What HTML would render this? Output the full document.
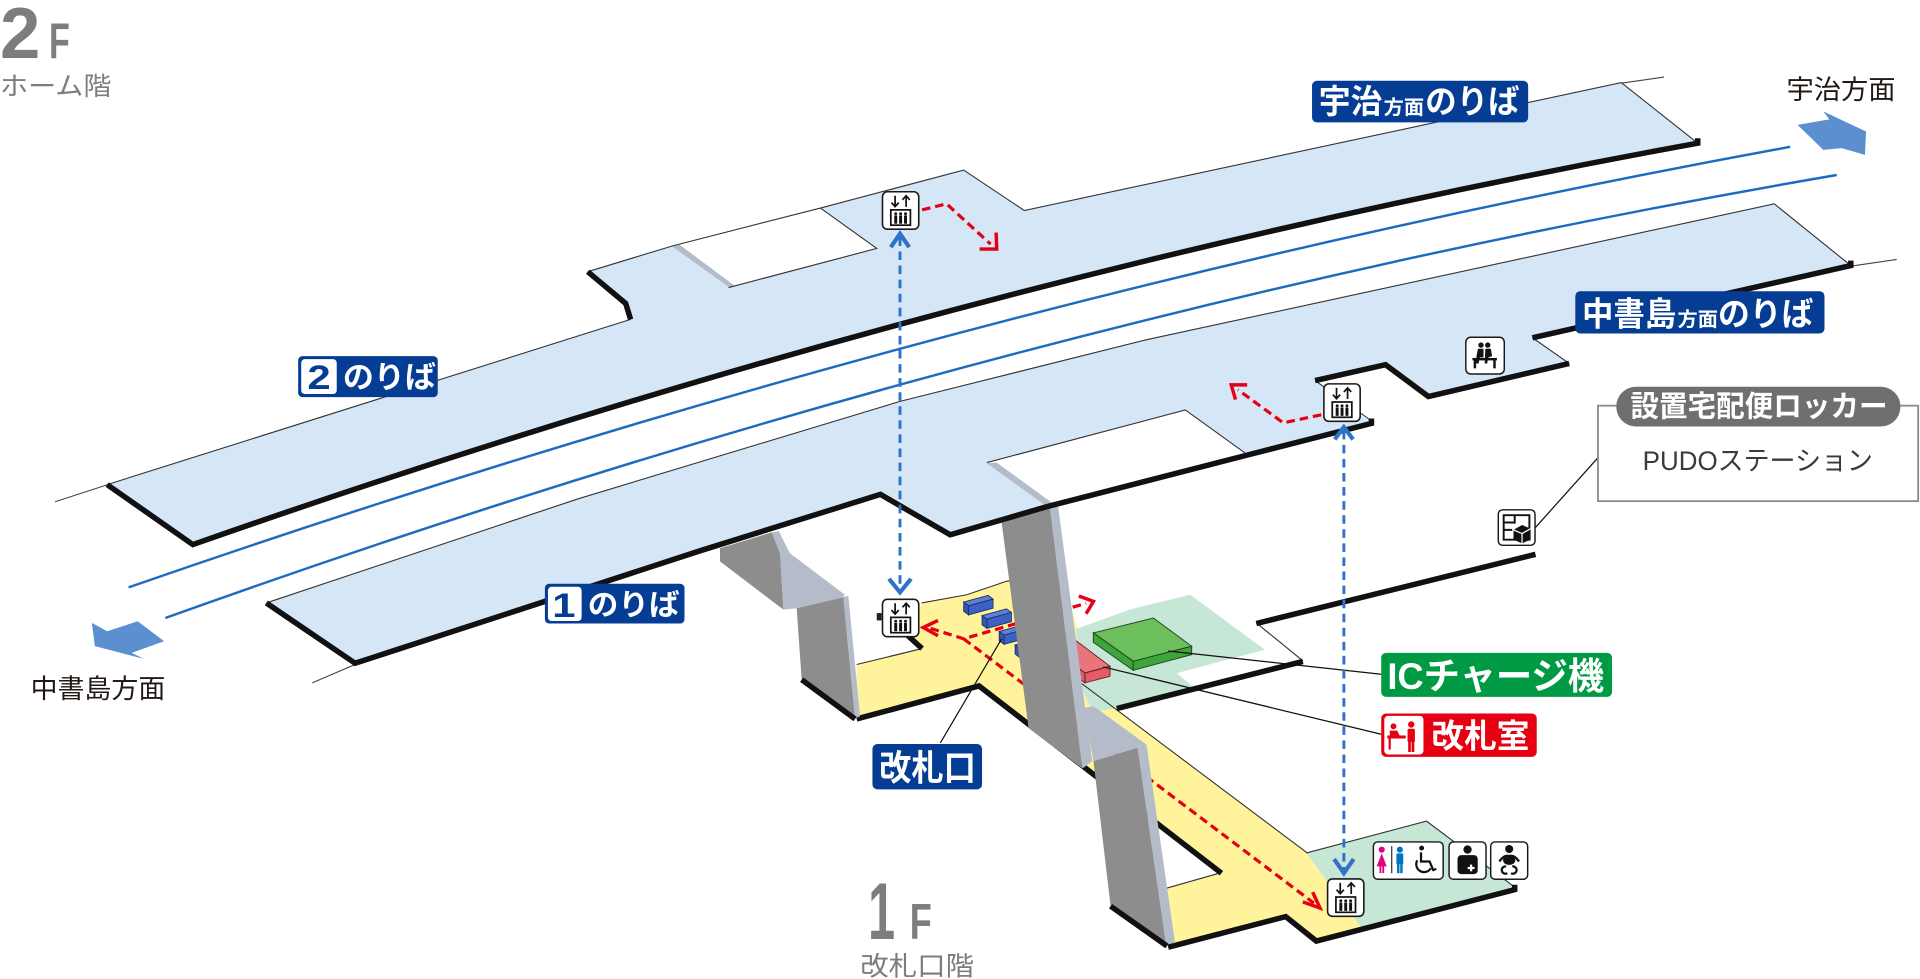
<!DOCTYPE html>
<html>
<head>
<meta charset="utf-8">
<style>
html,body{margin:0;padding:0;background:#fff;overflow:hidden;}
svg{display:block;}
text{font-family:"Liberation Sans","Noto Sans CJK JP",sans-serif;}
</style>
</head>
<body>
<svg xmlns="http://www.w3.org/2000/svg" width="1920" height="979" viewBox="0 0 1568 800" preserveAspectRatio="none">
<defs>
  <g id="elev">
    <rect x="0.7" y="0.7" width="29.6" height="30.6" rx="4" fill="#fff" stroke="#1a1a1a" stroke-width="1.3"/>
    <path d="M11,4 V12.5 M8,9.5 L11,12.8 L14,9.5 M20,13 V4.3 M17,7.3 L20,4 L23,7.3" fill="none" stroke="#111" stroke-width="1.4"/>
    <rect x="7.5" y="15.5" width="16" height="12.5" fill="#fff" stroke="#111" stroke-width="1.4"/>
    <g fill="#111">
      <circle cx="11.5" cy="18.6" r="1.2"/><circle cx="15.5" cy="18.6" r="1.2"/><circle cx="19.5" cy="18.6" r="1.2"/>
      <rect x="10.3" y="20" width="2.4" height="6.8"/><rect x="14.3" y="20" width="2.4" height="6.8"/><rect x="18.3" y="20" width="2.4" height="6.8"/>
    </g>
  </g>
  <g id="gate">
    <path d="M0,0 L20,-5.5 L24,-2.5 L4,3 Z" fill="#5b81d3" stroke="#1e2d6b" stroke-width="0.7"/>
    <path d="M4,3 L24,-2.5 L24,5 L4,10.5 Z" fill="#3b62c2" stroke="#1e2d6b" stroke-width="0.7"/>
    <path d="M0,0 L4,3 L4,10.5 L0,7.5 Z" fill="#3456b0" stroke="#1e2d6b" stroke-width="0.7"/>
  </g>
</defs>

<!-- track extension lines -->
<path d="M45,410 L88,396 M1324,68 L1359,63 M255,558 L290,543 M1511.5,217.5 L1549,212" stroke="#444" stroke-width="0.9" fill="none"/>

<!-- tracks -->
<path d="M105,480 Q783.5,244 1462,120" stroke="#1b6cc0" stroke-width="2" fill="none"/>
<path d="M135,505 Q817.5,260 1500,143" stroke="#1b6cc0" stroke-width="2" fill="none"/>

<!-- 1F floor -->
<polygon points="699.6,543 753,530 740.5,518.6 748,505 752.7,492.7 789.5,486 822,475 866,466 880,514 880,556 1067.6,697 1112,758 1075,769 1050,749 956,774 952,726 997.5,713 799.5,560 699.6,587" fill="#fff49c"/>
<polygon points="879,514 923,498 972,486 1033,531 961,550 974,561 913,578 893,582 880,556" fill="#c6e6d6"/>
<polygon points="1067,697 1165,671 1237,725 1237,729 1113,760 1111,757" fill="#c6e6d6"/>
<path d="M699.6,543 L753,530 M752.7,492.7 L789.5,486 L822,475 L866,466 M880,556 L1067.6,697 M952,726 L997.5,713 M1064,540 L1026,509 M1067,697 L1165,671 L1237,725" stroke="#333" stroke-width="0.9" fill="none"/>
<path d="M740.5,518.6 L753,530 M699.6,587.5 L799.5,560.5 L997.5,713.5 M954,774 L1050,749 L1075,769 L1237,727 L1237,723 M912,579 L1064,540.5 M1026,509.5 L1254,453" stroke="#111" stroke-width="4.5" fill="none" stroke-linejoin="miter"/>

<!-- gates -->
<use href="#gate" x="787" y="492"/>
<use href="#gate" x="802" y="503"/>
<use href="#gate" x="816" y="516"/>
<use href="#gate" x="829" y="527"/>

<!-- red box (ticket office) -->
<path d="M846,520 L866,514 L906.5,544.4 L886,550 Z" fill="#e8747c" stroke="#5a1a1a" stroke-width="0.7"/>
<path d="M886,550 L906.5,544.4 L906.5,552.6 L886,558 Z" fill="#e35b66" stroke="#5a1a1a" stroke-width="0.7"/>
<path d="M846,520 L886,550 L886,558 L846,528 Z" fill="#e35b66" stroke="#5a1a1a" stroke-width="0.7"/>

<!-- green box (IC charge) -->
<path d="M892.9,517.2 L941.9,505 L973.2,528.1 L925.5,540.4 Z" fill="#6cbf5c" stroke="#1f4a1c" stroke-width="0.8"/>
<path d="M892.9,517.2 L925.5,540.4 L925.5,547.7 L892.9,524.8 Z" fill="#3ea53d" stroke="#1f4a1c" stroke-width="0.8"/>
<path d="M925.5,540.4 L973.2,528.1 L973.2,534.9 L925.5,547.7 Z" fill="#3ea53d" stroke="#1f4a1c" stroke-width="0.8"/>

<!-- red dashed 1F -->
<g stroke="#e60012" stroke-width="2.6" fill="none">
  <path d="M760,513.5 L787,522 L887,493" stroke-dasharray="7 4"/>
  <path d="M787,522 L1073,738" stroke-dasharray="7 4"/>
  <path d="M766,507 L754,512.8 L766,519.5" stroke-width="2.8"/>
  <path d="M881,487 L893,491.4 L887,501.5" stroke-width="2.8"/>
  <path d="M1064,737 L1078,742 L1072,729" stroke-width="2.8"/>
</g>

<!-- leader lines -->
<path d="M818,522 L768,607 M954,532 L1128,551 M901,545 L1128,600 M1305,374 L1254,431" stroke="#111" stroke-width="1" fill="none"/>

<!-- pillar 1 -->
<polygon points="588,448 630.2,435 637,452 639.8,498.2 588,458.7" fill="#8d8d8d"/>
<polygon points="630.2,435 636,434 645,452 637,452" fill="#b3bcc8"/>
<polygon points="637,452 645,452 690,486 688.7,488 650.6,497 639.8,498.2" fill="#b3bcc8"/>
<polygon points="650.6,497 688.7,488 698.3,587 654.7,555.4" fill="#8d8d8d"/>
<polygon points="688.7,488 692.8,486.8 702.4,585.3 698.3,587" fill="#b3bcc8"/>
<path d="M654.7,555.4 L698.3,587.5" stroke="#111" stroke-width="4.5"/>

<!-- pillar 2 -->
<polygon points="818,427 857.5,415 884,628 840,595" fill="#8d8d8d"/>
<polygon points="857.5,415 864,413 892,622 884,628" fill="#b3bcc8"/>

<!-- pillar 3 -->
<polygon points="885,578.5 893,577 936.3,608.4 929,611 893,622" fill="#b3bcc8"/>
<polygon points="893,622 929,611 952.3,771.7 907,740.5" fill="#8d8d8d"/>
<polygon points="929,611 936.3,608.4 959.6,770.4 952.3,771.7" fill="#b3bcc8"/>
<path d="M907,740.5 L953,773" stroke="#111" stroke-width="4.5"/>

<!-- lower platform (1) -->
<path d="M217.5,492.7 L472.5,407.5 L735,328 L936,277.7 L1449,166.6 L1511.5,217 L1251.5,276 L1281.5,297 L1166.5,324 L1131.5,298 L1074,311 L1120,346 L1018,372 L855,414 L776,437 L719,404 L572,450 L290,542 Z" fill="#d5e6f6"/>
<polygon points="806,378 968,335 1018,371 855,414" fill="#fff"/>
<polygon points="805.8,378.4 814,378 862,413 855,414" fill="#b3bcc8"/>
<path d="M217.5,492.7 L472.5,407.5 L735,328 L936,277.7 L1449,166.6 L1511.5,217 M1251.5,276 L1281.5,297 M1074,311 L1120,344 M806,378 L968,335 L1018,371" stroke="#333" stroke-width="0.9" fill="none"/>
<path d="M1511.5,213 L1511.5,217 L1251.5,276 M1281.5,297 L1166.5,324 L1131.5,298 L1074,311 M1120,342 L1120,346 L1018,372 L855,414 L776,437 L719,404 L572,450 L290,542 L217.5,492.7" stroke="#111" stroke-width="4.5" fill="none"/>

<!-- upper platform (2) -->
<path d="M87.5,396 L515,261 L511,248 L480,222 L549,201 L670,170 L787,139 L836.5,172 L1324,67.5 L1386.5,117 Q772,229 157.5,445 Z" fill="#d5e6f6"/>
<polygon points="549,201 670,170 716,203 595,235" fill="#fff"/>
<polygon points="549,201.4 555,200 600,233.5 595,234.6" fill="#b3bcc8"/>
<path d="M87.5,396 L515,261 M480,222 L549,201 L670,170 L787,139 L836.5,172 L1324,67.5 L1386.5,117 M670,170 L716,203 L595,235" stroke="#333" stroke-width="0.9" fill="none"/>
<path d="M1386.5,113 L1386.5,117 Q772,229 157.5,445 L87.5,396 M515,261 L511,248 L480,222" stroke="#111" stroke-width="4.5" fill="none"/>

<!-- blue dashed verticals -->
<g stroke="#2f72c9" fill="none">
  <path d="M735,194 L735,481" stroke-width="2.4" stroke-dasharray="7 4.5"/>
  <path d="M1097.5,352 L1097.5,711" stroke-width="2.4" stroke-dasharray="7 4.5"/>
  <path d="M727.5,202 L735,191 L742.5,202" stroke-width="3.4"/>
  <path d="M726,473 L735,484 L744,473" stroke-width="3.4"/>
  <path d="M1090,359 L1097.5,349 L1105,359" stroke-width="3.4"/>
  <path d="M1089.5,702 L1097.5,713.5 L1105.5,702" stroke-width="3.4"/>
</g>

<!-- red dashed on platforms -->
<g stroke="#e60012" stroke-width="2.6" fill="none">
  <path d="M753,171.5 L773,166.5 L809,199.5" stroke-dasharray="7 4"/>
  <path d="M800,203.5 L814,203.5 L813.5,190" stroke-width="2.8"/>
  <path d="M1079,339 L1048,345.5 L1011,318.5" stroke-dasharray="7 4"/>
  <path d="M1018.5,314.5 L1005.5,314.5 L1009,326.5" stroke-width="2.8"/>
</g>

<!-- direction arrows -->
<polygon points="1468,102 1494,97.5 1489,91 1524,107.5 1523,126.6 1504,121 1489,122.5" fill="#5b8fd0"/>
<polygon points="75,509 87.5,515.8 112.5,507.7 134,524 107.5,533.5 117.5,538.4 77.5,528" fill="#5b8fd0"/>

<!-- elevators -->
<use href="#elev" x="720" y="156"/>
<use href="#elev" x="1080.5" y="313"/>
<rect x="716" y="501" width="4" height="6" fill="#222"/>
<use href="#elev" x="720" y="489"/>
<use href="#elev" x="1083.5" y="717.5"/>

<!-- waiting room icon -->
<g transform="translate(1196.5,275)">
  <rect x="0.6" y="0.6" width="31.4" height="30" rx="4" fill="#fff" stroke="#1a1a1a" stroke-width="1.2"/>
  <g fill="#111">
    <circle cx="13" cy="7" r="2.2"/><circle cx="18.5" cy="7" r="2.2"/>
    <path d="M10.5,10 L15,10 L15,17 L12,17 L11,22 L8.5,22 L9.5,15 Z"/>
    <path d="M16.5,10 L21,10 L22,16 L19,17 L18,22 L16,22 Z"/>
    <rect x="6" y="17.5" width="20" height="2"/>
    <rect x="7" y="19" width="2" height="7"/><rect x="23" y="19" width="2" height="7"/>
  </g>
</g>

<!-- PUDO locker icon -->
<g transform="translate(1223,416)">
  <rect x="0.6" y="0.6" width="30" height="29" rx="3.5" fill="#fff" stroke="#1a1a1a" stroke-width="1.2"/>
  <path d="M5,5 H26 V25 H5 Z M5,11 H14 M5,17 H12 M14,5 V12" stroke="#111" stroke-width="1.6" fill="none"/>
  <path d="M13,17 L20,13 L27,16 L27,25 L20,28 L13,25 Z" fill="#111"/>
  <path d="M13,17 L20,20 L27,16 M20,20 V28" stroke="#fff" stroke-width="1" fill="none"/>
</g>

<!-- toilet icon -->
<g>
  <rect x="1121.6" y="688" width="57" height="30.5" rx="3.5" fill="#fff" stroke="#1a1a1a" stroke-width="1.2"/>
  <g fill="#e5007f">
    <circle cx="1128.4" cy="694.3" r="2.5"/>
    <path d="M1128.4,697.3 L1132.5,708 L1124.3,708 Z"/>
    <rect x="1126.6" y="707" width="1.5" height="6.5"/><rect x="1128.9" y="707" width="1.5" height="6.5"/>
  </g>
  <rect x="1136" y="691.5" width="1.1" height="22" fill="#444"/>
  <g fill="#0075c2">
    <circle cx="1143.2" cy="694.3" r="2.5"/>
    <rect x="1140.4" y="697.3" width="5.6" height="9" rx="1"/>
    <rect x="1140.9" y="705" width="2" height="8.5"/><rect x="1143.5" y="705" width="2" height="8.5"/>
  </g>
  <g stroke="#111" fill="none" stroke-width="1.8">
    <path d="M1160.5,696.5 L1160.5,704 L1167.5,704 L1170.5,711 L1173,710"/>
    <path d="M1157.5,703 A6,6 0 1 0 1168.5,709.5"/>
  </g>
  <circle cx="1161" cy="693" r="2" fill="#111"/>
</g>

<!-- nursing icon -->
<g>
  <rect x="1183.4" y="688" width="30.2" height="30.5" rx="3.5" fill="#fff" stroke="#1a1a1a" stroke-width="1.2"/>
  <circle cx="1198.5" cy="694.2" r="3.4" fill="#111"/>
  <rect x="1190.3" y="698.8" width="16.5" height="15.5" rx="3" fill="#111"/>
  <rect x="1200.5" y="706.5" width="1.8" height="5.5" fill="#fff"/>
  <rect x="1198.6" y="708.4" width="5.6" height="1.8" fill="#fff"/>
</g>

<!-- baby icon -->
<g>
  <rect x="1217.4" y="688" width="30.2" height="30.5" rx="3.5" fill="#fff" stroke="#1a1a1a" stroke-width="1.2"/>
  <circle cx="1232.5" cy="693.8" r="3.3" fill="#111"/>
  <ellipse cx="1232.5" cy="703" rx="5" ry="3.8" fill="#111"/>
  <path d="M1224.5,704 Q1228,698.5 1232.5,699.5 Q1237,698.5 1240.5,704" stroke="#111" stroke-width="2" fill="none"/>
  <path d="M1230,708 A3,3 0 1 0 1231,713.5 M1235,708 A3,3 0 1 1 1234,713.5" stroke="#111" stroke-width="1.8" fill="none"/>
</g>

<!-- 2F / 1F headings -->
<text x="0" y="47.5" font-size="59" font-weight="bold" fill="#7d7d7d" textLength="33" lengthAdjust="spacingAndGlyphs">2</text>
<text x="40" y="47.5" font-size="41" font-weight="bold" fill="#7d7d7d" textLength="17" lengthAdjust="spacingAndGlyphs">F</text>
<text x="0" y="77.5" font-size="21" fill="#7d7d7d" textLength="91" lengthAdjust="spacingAndGlyphs">ホーム階</text>
<text x="709" y="767.5" font-size="66" font-weight="bold" fill="#7d7d7d" textLength="22" lengthAdjust="spacingAndGlyphs">1</text>
<text x="743" y="767" font-size="41" font-weight="bold" fill="#7d7d7d" textLength="18" lengthAdjust="spacingAndGlyphs">F</text>
<text x="702.5" y="797" font-size="22" fill="#7d7d7d" textLength="93" lengthAdjust="spacingAndGlyphs">改札口階</text>

<!-- direction texts -->
<text x="1459" y="81" font-size="22" fill="#231815" textLength="89" lengthAdjust="spacingAndGlyphs">宇治方面</text>
<text x="25" y="570.5" font-size="22" fill="#231815" textLength="110" lengthAdjust="spacingAndGlyphs">中書島方面</text>

<!-- 宇治方面のりば -->
<rect x="1071.5" y="66" width="176.5" height="34" rx="4" fill="#053c94"/>
<text x="1077" y="92.5" font-size="27" font-weight="bold" fill="#fff" textLength="52" lengthAdjust="spacingAndGlyphs">宇治</text>
<text x="1130" y="93" font-size="16" font-weight="bold" fill="#fff" textLength="33" lengthAdjust="spacingAndGlyphs">方面</text>
<text x="1164" y="92.5" font-size="27" font-weight="bold" fill="#fff" textLength="77" lengthAdjust="spacingAndGlyphs">のりば</text>

<!-- 中書島方面のりば -->
<rect x="1286.5" y="238" width="203.5" height="34.5" rx="4" fill="#053c94"/>
<text x="1292" y="266" font-size="27" font-weight="bold" fill="#fff" textLength="77" lengthAdjust="spacingAndGlyphs">中書島</text>
<text x="1370" y="266.5" font-size="16" font-weight="bold" fill="#fff" textLength="33" lengthAdjust="spacingAndGlyphs">方面</text>
<text x="1403" y="266" font-size="27" font-weight="bold" fill="#fff" textLength="78" lengthAdjust="spacingAndGlyphs">のりば</text>

<!-- 2のりば -->
<rect x="243.5" y="291" width="114" height="33.5" rx="3.5" fill="#053c94"/>
<rect x="246" y="293.5" width="29" height="28.5" rx="3" fill="#fff"/>
<text x="251" y="318" font-size="28" font-weight="bold" fill="#053c94" textLength="19" lengthAdjust="spacingAndGlyphs">2</text>
<text x="280" y="317" font-size="25" font-weight="bold" fill="#fff" textLength="76" lengthAdjust="spacingAndGlyphs">のりば</text>

<!-- 1のりば -->
<rect x="445" y="477" width="114" height="32.5" rx="3.5" fill="#053c94"/>
<rect x="447.5" y="479.5" width="27.5" height="28" rx="3" fill="#fff"/>
<text x="451" y="504" font-size="28" font-weight="bold" fill="#053c94" textLength="19" lengthAdjust="spacingAndGlyphs">1</text>
<text x="480" y="502.5" font-size="24" font-weight="bold" fill="#fff" textLength="75" lengthAdjust="spacingAndGlyphs">のりば</text>

<!-- 改札口 -->
<rect x="712.5" y="608" width="89.5" height="37" rx="4" fill="#053c94"/>
<text x="718" y="637.5" font-size="29" font-weight="bold" fill="#fff" textLength="79" lengthAdjust="spacingAndGlyphs">改札口</text>

<!-- ICチャージ機 -->
<rect x="1128" y="533.5" width="188.5" height="36" rx="4" fill="#009944"/>
<text x="1133" y="563" font-size="30" font-weight="bold" fill="#fff" textLength="177" lengthAdjust="spacingAndGlyphs">ICチャージ機</text>

<!-- 改札室 -->
<rect x="1128" y="583" width="127" height="35.5" rx="4" fill="#e60012"/>
<rect x="1130.5" y="585" width="32" height="31.5" rx="3" fill="#fff"/>
<g fill="#e60012">
  <circle cx="1138" cy="593.5" r="2.4"/>
  <path d="M1135,597 L1141,597 L1143,601 L1135,601 Z"/>
  <rect x="1133" y="601" width="15" height="2.5"/>
  <rect x="1134" y="603.5" width="1.8" height="9"/>
  <circle cx="1152.5" cy="592" r="2.6"/>
  <rect x="1149.5" y="595.5" width="6" height="11" rx="1.2"/>
  <rect x="1150" y="605" width="2.2" height="9.5"/><rect x="1152.8" y="605" width="2.2" height="9.5"/>
</g>
<text x="1169" y="611" font-size="27" font-weight="bold" fill="#fff" textLength="80" lengthAdjust="spacingAndGlyphs">改札室</text>

<!-- PUDO box -->
<rect x="1305" y="331.5" width="261.5" height="78" fill="#fff" stroke="#8c8c8c" stroke-width="1.5"/>
<rect x="1320" y="316" width="232" height="32.5" rx="16" fill="#6f6f6f"/>
<text x="1331.5" y="340.5" font-size="24" font-weight="bold" fill="#fff" textLength="210" lengthAdjust="spacingAndGlyphs">設置宅配便ロッカー</text>
<text x="1341.5" y="384" font-size="22" fill="#3a3a3a" textLength="188" lengthAdjust="spacingAndGlyphs">PUDOステーション</text>

</svg>
</body>
</html>
